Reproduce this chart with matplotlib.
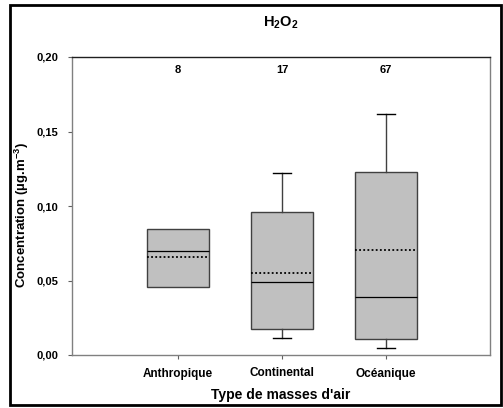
import matplotlib
matplotlib.use("Agg")
import matplotlib.pyplot as plt
from matplotlib.patches import Rectangle

plt.rcParams['font.family'] = ['Liberation Sans', 'DejaVu Sans']
plt.rcParams['mathtext.fontset'] = 'custom'
plt.rcParams['mathtext.rm'] = 'Liberation Sans:bold'
plt.rcParams['mathtext.bf'] = 'Liberation Sans:bold'
plt.rcParams['mathtext.default'] = 'bf'

# data
categories = ["Anthropique", "Continental", "Océanique"]
counts = [8, 17, 67]
q1 = [0.0458, 0.0172, 0.0105]
median = [0.0698, 0.0488, 0.0387]
q3 = [0.0844, 0.0960, 0.1230]
mean = [0.0660, 0.0548, 0.0703]
whis_lo = [0.0458, 0.0114, 0.0047]
whis_hi = [0.0844, 0.1220, 0.1617]

stats = []
for i, name in enumerate(categories):
    stats.append(dict(label=name, q1=q1[i], med=median[i], q3=q3[i],
                      mean=mean[i], whislo=whis_lo[i], whishi=whis_hi[i],
                      fliers=[]))

fig = plt.figure(figsize=(5.03, 4.08), dpi=100)
ax = fig.add_axes([72 / 503, 1 - 355 / 408, 418 / 503, 298 / 408])

edge = "#404040"
bp = ax.bxp(stats, positions=[1, 2, 3], widths=0.6, patch_artist=True,
            showmeans=True, meanline=True, capwidths=0.17,
            boxprops=dict(facecolor="#c0c0c0", edgecolor=edge, linewidth=1),
            medianprops=dict(color="black", linewidth=0.9),
            meanprops=dict(color="black", linestyle=(0, (1, 1.3)), linewidth=1.3),
            whiskerprops=dict(color=edge, linewidth=1),
            capprops=dict(color="black", linewidth=1))
# first group has no whiskers (too few samples)
for k in (0, 1):
    bp["caps"][k].set_visible(False)
    bp["whiskers"][k].set_visible(False)

for i, n in enumerate(counts):
    ax.text(i + 1, 0.191, str(n), ha="center", va="center",
            fontsize=8, fontweight="bold")

ax.set_xlim(-0.02, 4.0)
ax.set_ylim(0, 0.20)
ax.set_yticks([0, 0.05, 0.10, 0.15, 0.20])
ax.set_yticklabels(["0,00", "0,05", "0,10", "0,15", "0,20"],
                   fontsize=8, fontweight="bold")
ax.set_xticks([1, 2, 3])
ax.set_xticklabels(categories, fontsize=8.5, fontweight="bold")
ax.tick_params(axis="both", direction="out", length=3, width=0.8,
               color="#606060")
ax.tick_params(axis="y", pad=7)
ax.tick_params(axis="x", pad=6)

for side in ["left", "bottom", "right"]:
    ax.spines[side].set_color("#808080")
    ax.spines[side].set_linewidth(1)
ax.spines["top"].set_color("#202020")
ax.spines["top"].set_linewidth(1)

fig.text(281 / 503, 1 - 23 / 408, "H$_2$O$_2$", ha="center", va="center",
         fontsize=10.5, fontweight="bold")
ax.set_ylabel("Concentration (µg.m$^{-3}$)", fontsize=9.5, fontweight="bold")
ax.yaxis.set_label_coords(-50 / 418, 0.47)
ax.set_xlabel("Type de masses d'air", fontsize=10, fontweight="bold")
ax.xaxis.set_label_coords(0.5, -40 / 298)
ax.xaxis.label.set_va("center")
ax.yaxis.label.set_va("center")

# outer frame around the figure
fig.patches.append(Rectangle((10 / 503, 3 / 408), 491 / 503, 400 / 408,
                             transform=fig.transFigure, fill=False,
                             edgecolor="black", linewidth=2))

fig.savefig("out.png", dpi=100)
